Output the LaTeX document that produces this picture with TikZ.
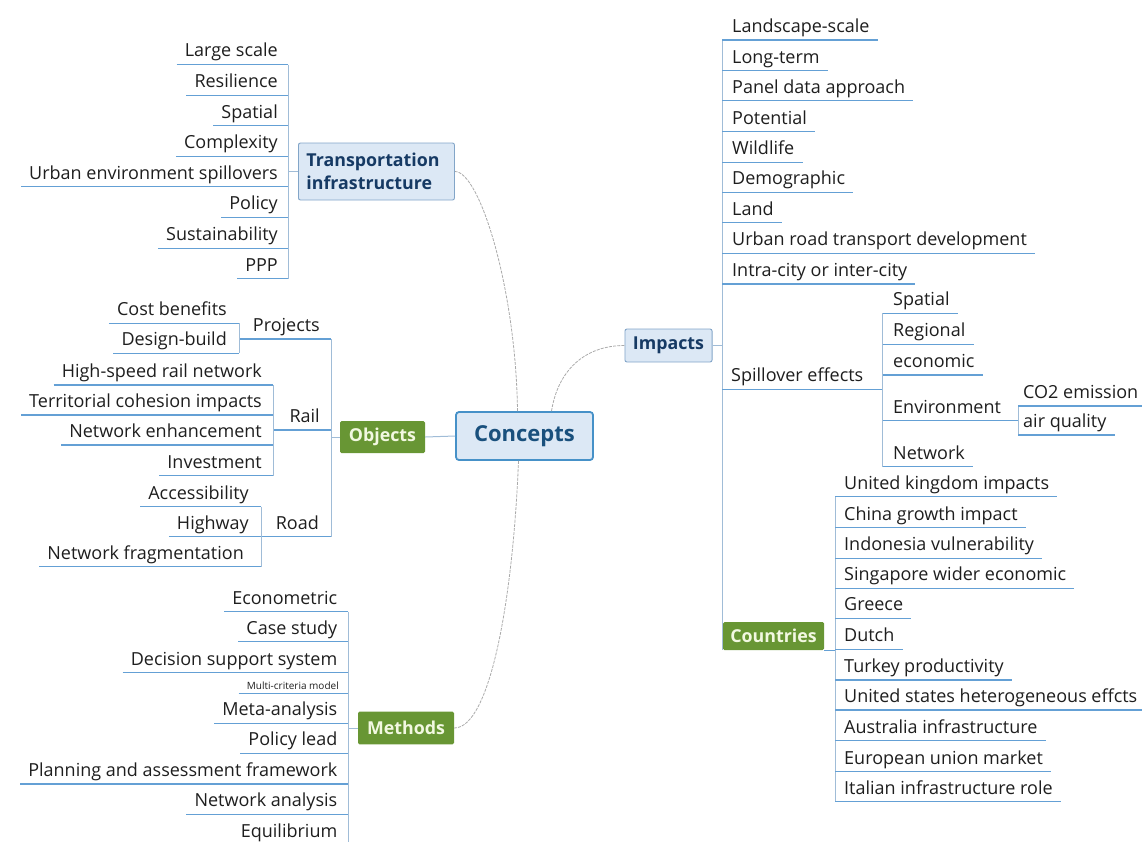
\documentclass[tikz,border=0pt]{standalone}
\usepackage{fontspec}
\setmainfont{Open Sans}
\definecolor{ulc}{RGB}{100,160,213}
\definecolor{brkc}{RGB}{160,188,215}
\definecolor{connc}{RGB}{170,170,170}
\definecolor{bfill}{RGB}{220,232,245}
\definecolor{bdraw}{RGB}{130,165,200}
\definecolor{btext}{RGB}{22,58,100}
\definecolor{cdraw}{RGB}{70,145,200}
\definecolor{ctext}{RGB}{25,80,125}
\definecolor{gfill}{RGB}{104,150,52}
\definecolor{gtext}{RGB}{242,248,225}
\definecolor{ink}{RGB}{30,30,30}
\tikzset{
 leaf/.style={font=\fontsize{18}{21}\selectfont, text=ink, inner xsep=8pt, inner ysep=2.5pt, text height=13pt, text depth=5pt},
 leafL/.style={leaf, anchor=south east},
 leafR/.style={leaf, anchor=south west},
 ul/.style={draw=ulc, line width=1.1pt},
 brk/.style={draw=brkc, line width=0.7pt},
 cn/.style={draw=connc, line width=0.8pt, dash pattern=on 3pt off 1.2pt},
 ol/.style={draw=brkc, line width=1pt},
 bluebox/.style={fill=bfill, draw=bdraw, line width=0.9pt, rounded corners=2pt, text=btext, font=\bfseries\fontsize{17.8}{23}\selectfont, inner xsep=8pt},
 greenbox/.style={fill=gfill, draw=none, rounded corners=1.5pt, text=gtext, font=\bfseries\fontsize{17.8}{20}\selectfont},
}
\begin{document}
\begin{tikzpicture}[x=1pt,y=-1pt]
\useasboundingbox (0,0) rectangle (1142,841);
\clip (0,0) rectangle (1142,841);
% central
\node[fill=bfill, draw=cdraw, line width=1.8pt, rounded corners=3pt, text=ctext, font=\bfseries\fontsize{22}{26}\selectfont, minimum width=137pt, minimum height=48pt] (cc) at (524.5,436) {Concepts};
\node[bluebox, text width=140pt, align=left, minimum height=57pt, anchor=west] (ti) at (298,171.5) {Transportation\\infrastructure};
\node[bluebox, minimum width=87pt, minimum height=33pt] (im) at (668.5,345.5) {Impacts};
\node[greenbox, minimum width=85pt, minimum height=32pt] (ob) at (382.5,437) {Objects};
\node[greenbox, minimum width=96pt, minimum height=32.6pt] (me) at (406,728) {Methods};
\node[greenbox, minimum width=101pt, minimum height=28pt] (co) at (773.5,636) {Countries};
% connectors from Concepts
\draw[cn] ([xshift=-7pt]cc.north) .. controls (516,290) and (480,171.5) .. (ti.east);
\draw[cn] ([xshift=27pt]cc.north) .. controls (558,370) and (585,345.5) .. (im.west);
\draw[cn] ([xshift=-6pt]cc.south) .. controls (513,600) and (490,728) .. (me.east);
\draw[ol] (ob.east) -- (cc.west);
% Transportation infrastructure
\coordinate (tiB) at (288,171.5);
\node[leafL] (t1) at (286,64.5) {Large scale};
\node[leafL] (t2) at (286,95.1) {Resilience};
\node[leafL] (t3) at (286,125.7) {Spatial};
\node[leafL] (t4) at (286,156.3) {Complexity};
\node[leafL] (t5) at (286,186.9) {Urban environment spillovers};
\node[leafL] (t6) at (286,217.5) {Policy};
\node[leafL] (t7) at (286,248.1) {Sustainability};
\node[leafL] (t8) at (286,278.7) {PPP};
\draw[brk] (t1.south -| tiB) -- (t8.south -| tiB);
\draw[brk] (ti.west) -- (tiB);
\foreach \n in {t1,t2,t3,t4,t5,t6,t7,t8} \draw[ul] (\n.south west) -- (\n.south west -| tiB);
% Objects
\coordinate (obB) at (331,437);
\coordinate (pjB) at (239,339);
\coordinate (rlB) at (273,430);
\coordinate (rdB) at (261,536.7);
\node[leafL] (pj) at (328,339) {Projects};
\node[leafL] (rl) at (328,430) {Rail};
\node[leafL] (rd) at (327,536.7) {Road};
\draw[brk] (pj.south -| obB) -- (rd.south -| obB);
\draw[brk] (ob.west) -- (obB);
\draw[ul] (pj.south -| pjB) -- (pj.south -| obB);
\draw[ul] (rl.south -| rlB) -- (rl.south -| obB);
\draw[ul] (rd.south -| rdB) -- (rd.south -| obB);
\node[leafL] (p1) at (235,323.3) {Cost benefits};
\node[leafL] (p2) at (235,353.3) {Design-build};
\draw[brk] (p1.south -| pjB) -- (p2.south -| pjB);
\foreach \n in {p1,p2} \draw[ul] (\n.south west) -- (\n.south west -| pjB);
\node[leafL] (r1) at (270,385) {High-speed rail network};
\node[leafL] (r2) at (270,415) {Territorial cohesion impacts};
\node[leafL] (r3) at (270,445) {Network enhancement};
\node[leafL] (r4) at (270,475.7) {Investment};
\draw[brk] (r1.south -| rlB) -- (r4.south -| rlB);
\foreach \n in {r1,r2,r3,r4} \draw[ul] (\n.south west) -- (\n.south west -| rlB);
\node[leafL] (d1) at (257,506.7) {Accessibility};
\node[leafL] (d2) at (257,536.7) {Highway};
\node[leafL] (d3) at (252,566.7) {Network fragmentation};
\draw[brk] (d1.south -| rdB) -- (d3.south -| rdB);
\foreach \n in {d1,d2,d3} \draw[ul] (\n.south west) -- (\n.south west -| rdB);
% Methods
\coordinate (meB) at (348,728);
\node[leafL] (m1) at (345.5,611.7) {Econometric};
\node[leafL] (m2) at (345.5,641.7) {Case study};
\node[leafL] (m3) at (345.5,672.7) {Decision support system};
\node[leafL, font=\fontsize{10}{12}\selectfont, text height=7.5pt, text depth=2pt, inner ysep=2pt] (m4) at (347,693.3) {Multi-criteria model};
\node[leafL] (m5) at (345.5,723.3) {Meta-analysis};
\node[leafL] (m6) at (345.5,753.3) {Policy lead};
\node[leafL] (m7) at (345.5,784) {Planning and assessment framework};
\node[leafL] (m8) at (345.5,814.3) {Network analysis};
\node[leafL] (m9) at (345.5,845) {Equilibrium};
\draw[brk] (m1.south -| meB) -- (m9.south -| meB);
\draw[brk] (me.west) -- (meB);
\foreach \n in {m1,m2,m3,m4,m5,m6,m7,m8,m9} \draw[ul] (\n.south west) -- (\n.south west -| meB);
% Impacts
\coordinate (imB) at (722,345.5);
\node[leafR] (i1) at (724,40) {Landscape-scale};
\node[leafR] (i2) at (724,70.7) {Long-term};
\node[leafR] (i3) at (724,100.7) {Panel data approach};
\node[leafR] (i4) at (724,131.7) {Potential};
\node[leafR] (i5) at (724,162.3) {Wildlife};
\node[leafR] (i6) at (724,192.3) {Demographic};
\node[leafR] (i7) at (724,222.7) {Land};
\node[leafR] (i8) at (724,253.3) {Urban road transport development};
\node[leafR] (i9) at (724,284) {Intra-city or inter-city};
\node[leafR] (sp) at (723,389.3) {Spillover effects};
\draw[brk] (i1.south -| imB) -- (co.south -| imB);
\draw[brk] (im.east) -- (imB);
\foreach \n in {i1,i2,i3,i4,i5,i6,i7,i8,i9} \draw[ul] (\n.south -| imB) -- (\n.south east);
% Spillover effects
\coordinate (spB) at (882.7,389.3);
\draw[ul] (sp.south -| imB) -- (sp.south -| spB);
\node[leafR] (s1) at (885,313.3) {Spatial};
\node[leafR] (s2) at (885,344.3) {Regional};
\node[leafR] (s3) at (885,375) {economic};
\node[leafR] (s4) at (885,420.7) {Environment};
\node[leafR] (s5) at (885,466.7) {Network};
\draw[brk] (s1.south -| spB) -- (s5.south -| spB);
\foreach \n in {s1,s2,s3,s5} \draw[ul] (\n.south -| spB) -- (\n.south east);
\coordinate (envB) at (1018,420.7);
\draw[ul] (s4.south -| spB) -- (s4.south -| envB);
\node[leafR] (e1) at (1015,406) {CO2 emission};
\node[leafR] (e2) at (1015,435) {air quality};
\draw[brk] (e1.south -| envB) -- (e2.south -| envB);
\foreach \n in {e1,e2} \draw[ul] (\n.south -| envB) -- (\n.south east);
% Countries
\coordinate (coB) at (835,649.3);
\node[leafR] (c1) at (836,496.7) {United kingdom impacts};
\node[leafR] (c2) at (836,527.7) {China growth impact};
\node[leafR] (c3) at (836,558.3) {Indonesia vulnerability};
\node[leafR] (c4) at (836,588.3) {Singapore wider economic};
\node[leafR] (c5) at (836,618.3) {Greece};
\node[leafR] (c6) at (836,649.3) {Dutch};
\node[leafR] (c7) at (836,680) {Turkey productivity};
\node[leafR] (c8) at (836,710) {United states heterogeneous effcts};
\node[leafR] (c9) at (836,740.7) {Australia infrastructure};
\node[leafR] (c10) at (836,771.7) {European union market};
\node[leafR] (c11) at (836,801.7) {Italian infrastructure role};
\draw[brk] (c1.south -| coB) -- (c11.south -| coB);
\draw[ul] (co.south east) -- (co.south -| coB);
\foreach \n in {c1,c2,c3,c4,c5,c6,c7,c8,c9,c10,c11} \draw[ul] (\n.south -| coB) -- (\n.south east);
\end{tikzpicture}
\end{document}
